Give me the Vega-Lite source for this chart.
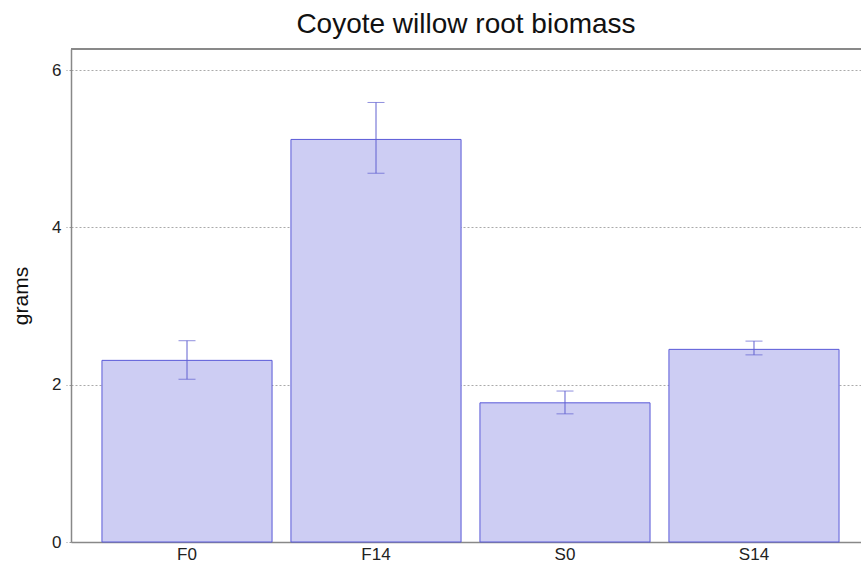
{
  "$schema": "https://vega.github.io/schema/vega-lite/v6.json",
  "width": 790,
  "height": 493,
  "autosize": {"type": "none"},
  "padding": {"left": 71, "top": 49, "right": 0, "bottom": 25},
  "background": "white",
  "title": {
    "text": "Coyote willow root biomass",
    "font": "Liberation Sans",
    "fontSize": 28,
    "fontWeight": "normal",
    "color": "#111111",
    "anchor": "middle",
    "offset": 9
  },
  "config": {
    "view": {"stroke": null},
    "axis": {"labelFont": "Liberation Sans", "titleFont": "Liberation Sans"}
  },
  "data": {
    "values": [
      {"group": "F0", "grams": 2.31, "low": 2.07, "high": 2.56},
      {"group": "F14", "grams": 5.12, "low": 4.69, "high": 5.59},
      {"group": "S0", "grams": 1.77, "low": 1.63, "high": 1.92},
      {"group": "S14", "grams": 2.45, "low": 2.38, "high": 2.555}
    ]
  },
  "layer": [
    {
      "mark": {"type": "bar", "fill": "#cdcdf3", "stroke": "#5a5ad8", "strokeWidth": 1},
      "encoding": {
        "x": {
          "field": "group",
          "type": "nominal",
          "sort": null,
          "scale": {"paddingInner": 0.1, "paddingOuter": 0.14, "align": 0.585},
          "axis": {
            "title": null,
            "labelAngle": 0,
            "labelFontSize": 17,
            "labelColor": "#222222",
            "labelPadding": 4,
            "ticks": false,
            "domainColor": "#888888",
            "domainWidth": 1.5
          }
        },
        "y": {
          "field": "grams",
          "type": "quantitative",
          "scale": {"domain": [0, 6.27], "nice": false},
          "axis": {
            "title": "grams",
            "titleFontSize": 21,
            "titleFontWeight": "normal",
            "titleColor": "#111111",
            "titlePadding": 20,
            "values": [0, 2, 4, 6],
            "format": "d",
            "labelFontSize": 17,
            "labelColor": "#222222",
            "labelPadding": 5,
            "tickColor": "#999999",
            "tickSize": 5,
            "tickDash": [2, 2],
            "domainColor": "#888888",
            "domainWidth": 1.5,
            "grid": true,
            "gridColor": "#aaaaaa",
            "gridDash": [2, 2],
            "gridWidth": 1
          }
        }
      }
    },
    {
      "mark": {"type": "rule", "color": "#6060d0", "strokeWidth": 1},
      "encoding": {
        "x": {"field": "group", "type": "nominal", "sort": null},
        "y": {"field": "low", "type": "quantitative"},
        "y2": {"field": "high"}
      }
    },
    {
      "mark": {"type": "tick", "color": "#6060d0", "thickness": 1, "size": 17},
      "encoding": {
        "x": {"field": "group", "type": "nominal", "sort": null},
        "y": {"field": "low", "type": "quantitative"}
      }
    },
    {
      "mark": {"type": "tick", "color": "#6060d0", "thickness": 1, "size": 17},
      "encoding": {
        "x": {"field": "group", "type": "nominal", "sort": null},
        "y": {"field": "high", "type": "quantitative"}
      }
    },
    {
      "mark": {"type": "rule", "color": "#888888", "strokeWidth": 1.5},
      "encoding": {"y": {"datum": 6.27, "type": "quantitative"}}
    }
  ]
}
